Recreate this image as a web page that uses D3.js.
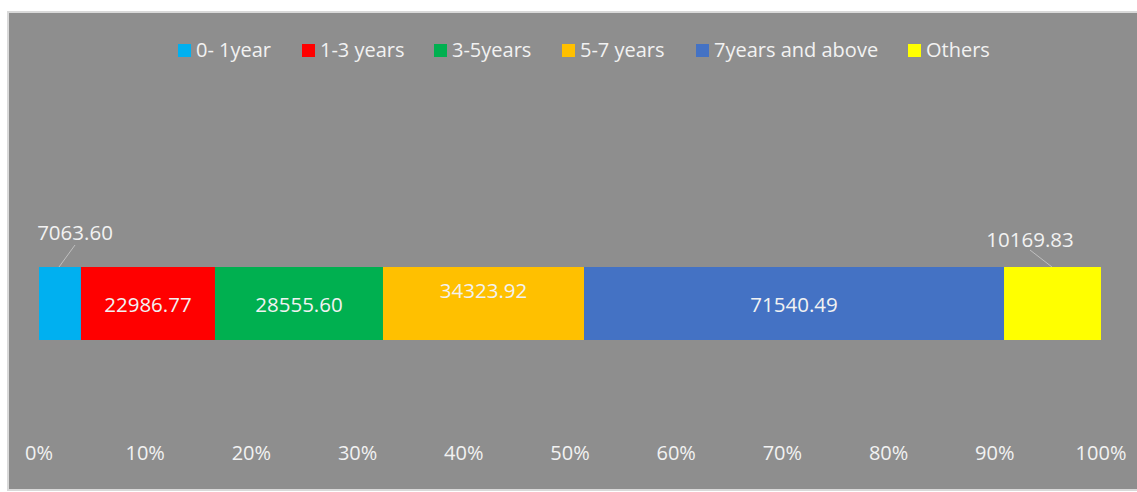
<!DOCTYPE html>
<html>
<head>
<meta charset="utf-8">
<script src="https://cdn.jsdelivr.net/npm/d3@7"></script>
<style>
  body { margin: 0; background: #ffffff; }
  svg text { font-family: "Open Sans", "Noto Sans", sans-serif; fill: #f2f2f2; }
</style>
</head>
<body>
<svg width="1137" height="492"></svg>
<script>
var categories = ['0- 1year', '1-3 years', '3-5years', '5-7 years', '7years and above', 'Others'];
var values = [7063.60, 22986.77, 28555.60, 34323.92, 71540.49, 10169.83]; // label values
var shares = [3.95, 12.62, 15.82, 18.93, 39.55, 9.13]; // bar widths in %
var colors = ['#00b0f0', '#ff0000', '#00b050', '#ffc000', '#4472c4', '#ffff00'];
var tickLabels = [0, 0.1, 0.2, 0.3, 0.4, 0.5, 0.6, 0.7, 0.8, 0.9, 1];
var legendX = [178, 302, 434, 562, 696, 908]; // legend item starts

var svg = d3.select('svg');

// chart area with light border
svg.append('rect')
   .attr('x', 8).attr('y', 12)
   .attr('width', 1140).attr('height', 478)
   .attr('fill', '#8e8e8e')
   .attr('stroke', '#d9d9d9')
   .attr('stroke-width', 2);

var totalShare = d3.sum(shares);
var x = d3.scaleLinear().domain([0, 1]).range([39, 1101]);
var barTop = 267, barH = 73;

// stacked shares
var stack = [];
var acc = 0;
shares.forEach(function(s, i) {
    stack.push({name: categories[i], value: values[i], x0: acc / totalShare, x1: (acc + s) / totalShare, color: colors[i]});
    acc += s;
});

svg.selectAll('.bar')
   .data(stack)
   .enter().append('rect')
   .attr('class', 'bar')
   .attr('x', function(d) { return x(d.x0); })
   .attr('y', barTop)
   .attr('width', function(d) { return x(d.x1) - x(d.x0); })
   .attr('height', barH)
   .attr('fill', function(d) { return d.color; });

// data labels
var fmt = d3.format('.2f');
var labelPos = [
    {x: 75, y: 240, outside: true, line: [75, 245, 59, 267]},
    {y: 312},
    {y: 312},
    {y: 298},
    {y: 312},
    {x: 1030, y: 247, outside: true, line: [1030, 250, 1052, 267]}
];

stack.forEach(function(d, i) {
    var p = labelPos[i];
    var cx = (x(d.x0) + x(d.x1)) / 2;
    if (p.outside) {
        svg.append('line')
           .attr('x1', p.line[0]).attr('y1', p.line[1])
           .attr('x2', p.line[2]).attr('y2', p.line[3])
           .attr('stroke', '#bfbfbf').attr('stroke-width', 1);
        cx = p.x;
    }
    svg.append('text')
       .attr('x', cx).attr('y', p.y)
       .attr('text-anchor', 'middle')
       .style('font-size', '20.5px')
       .text(fmt(d.value));
});

// x axis labels
svg.selectAll('.tick-label')
   .data(tickLabels)
   .enter().append('text')
   .attr('class', 'tick-label')
   .attr('x', function(d) { return x(d); })
   .attr('y', 460)
   .attr('text-anchor', 'middle')
   .style('font-size', '20px')
   .text(d3.format('.0%'));

// legend
var legend = svg.selectAll('.legend')
   .data(categories)
   .enter().append('g')
   .attr('class', 'legend')
   .attr('transform', function(d, i) { return 'translate(' + legendX[i] + ',44)'; });

legend.append('rect')
   .attr('width', 13).attr('height', 13)
   .attr('fill', function(d, i) { return colors[i]; });

legend.append('text')
   .attr('x', 18).attr('y', 13)
   .style('font-size', '20px')
   .text(function(d) { return d; });
</script>
</body>
</html>
